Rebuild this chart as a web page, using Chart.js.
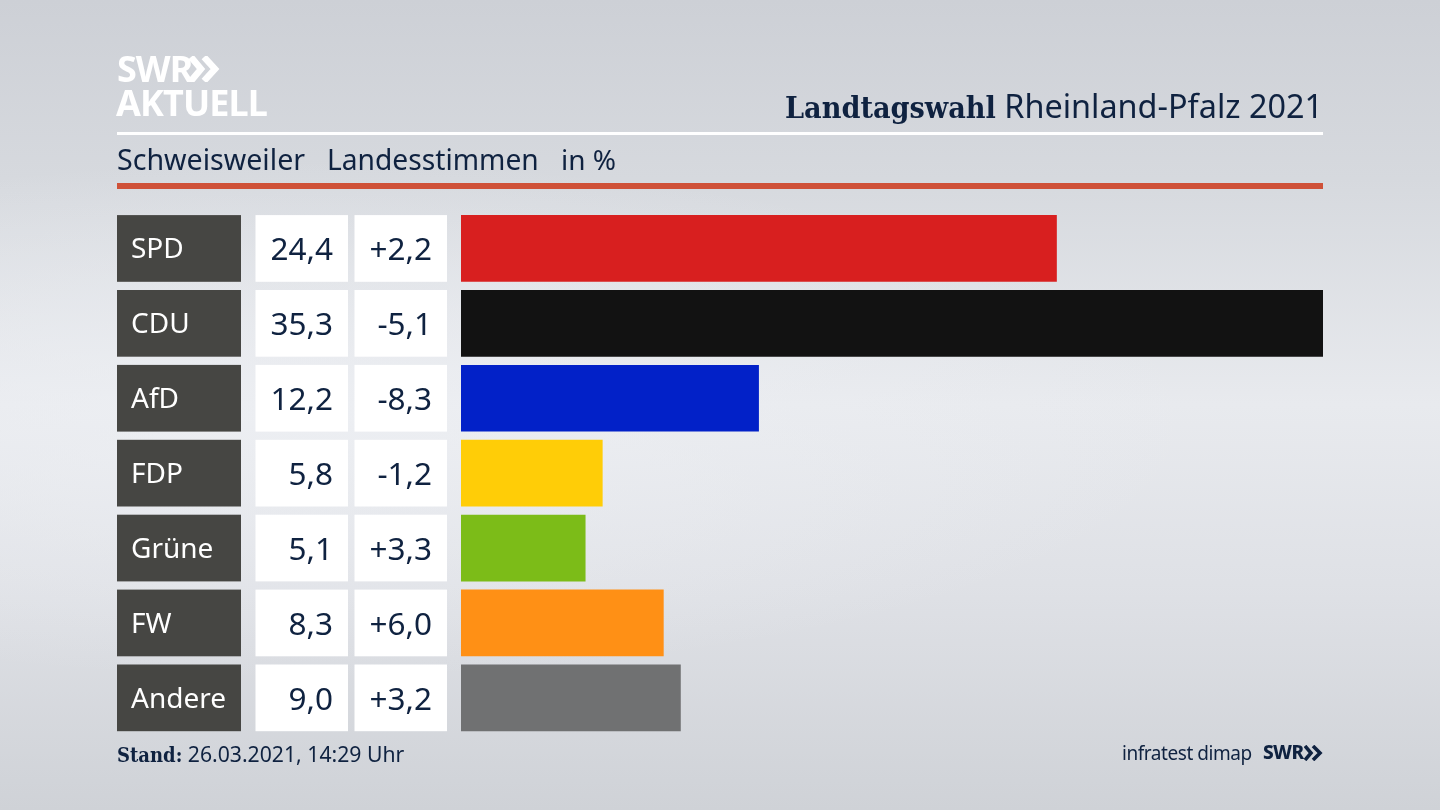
<!DOCTYPE html>
<html lang="de">
<head>
<meta charset="utf-8">
<title>Landtagswahl Rheinland-Pfalz 2021</title>
<script src="https://cdn.jsdelivr.net/npm/chart.js@4"></script>
<style>
html, body { margin: 0; padding: 0; width: 1440px; height: 810px; overflow: hidden; }
body {
    position: relative;
    font-family: "Noto Sans", sans-serif;
    color: #0f2240;
    background:
        radial-gradient(ellipse 900px 260px at 300px 420px, rgba(238,240,244,0.75), rgba(238,240,244,0)),
        linear-gradient(180deg, #cdd0d6 0%, #d6d9de 22%, #e8eaee 50%, #dfe1e6 72%, #cfd2d7 100%);
}
canvas { position: absolute; left: 0; top: 0; }
.txt { position: absolute; white-space: nowrap; line-height: 1; }
.rule { position: absolute; left: 117px; width: 1206px; }
.slab { font-family: "DejaVu Serif Condensed", "DejaVu Serif", serif; font-weight: 700; }
</style>
</head>
<body>
<canvas id="chart" width="1440" height="810"></canvas>

<div class="txt" style="left:117px;top:51px;font-size:36px;font-weight:700;color:#fff;letter-spacing:-1px">SWR</div>
<svg style="position:absolute;left:189px;top:56px" width="31" height="26" viewBox="0 0 31 26">
    <path d="M2 1l10 12L2 25M15 1l11 12-11 12" fill="none" stroke="#fff" stroke-width="6.5"/>
</svg>
<div class="txt" style="left:116px;top:85px;font-size:36px;font-weight:700;color:#fff;letter-spacing:-0.9px">AKTUELL</div>

<div class="txt" style="right:117px;top:89px;font-size:32.4px"><span class="slab" style="font-size:30.2px">Landtagswahl</span> Rheinland-Pfalz 2021</div>
<div class="rule" style="top:132px;height:3px;background:#fff"></div>
<div class="txt" style="left:117px;top:145px;font-size:28.6px">Schweisweiler</div>
<div class="txt" style="left:327px;top:145px;font-size:28.2px">Landesstimmen</div>
<div class="txt" style="left:561px;top:145px;font-size:28px">in %</div>
<div class="rule" style="top:183px;height:6px;background:#cf5138"></div>

<div class="txt" style="left:117px;top:743px;font-size:21.2px"><span class="slab" style="font-size:20px">Stand:</span> 26.03.2021, 14:29 Uhr</div>
<div class="txt" style="left:1122px;top:744px;font-size:19px;letter-spacing:-0.45px">infratest dimap</div>
<div class="txt" style="left:1263px;top:743px;font-size:19px;font-weight:800;letter-spacing:-0.6px">SWR</div>
<svg style="position:absolute;left:1304px;top:745px" width="19" height="16" viewBox="0 0 19 16">
    <path d="M1 1l6 7-6 7M9 1l7 7-7 7" fill="none" stroke="#0f2240" stroke-width="3.6"/>
</svg>

<script>
// Wahlergebnis Schweisweiler
const parties = ['SPD', 'CDU', 'AfD', 'FDP', 'Grüne', 'FW', 'Andere'];
const shares = [24.4, 35.3, 12.2, 5.8, 5.1, 8.3, 9.0];
const changes = [2.2, -5.1, -8.3, -1.2, 3.3, 6.0, 3.2];
const barColors = ['#d81f1f', '#121212', '#0221c8', '#ffcd07', '#7cbc18', '#ff9015', '#707172'];

function formatShare(v) {
    return v.toFixed(1).replace('.', ',');
}

function formatChange(v) {
    return (v > 0 ? '+' : '') + v.toFixed(1).replace('.', ',');
}

// Draws the party box and the two number cells left of every bar
const tableCells = {
    id: 'tableCells',
    afterDraw: function(chart) {
        const ctx = chart.ctx;
        const y = chart.scales.y;
        const h = 66.7;
        ctx.save();
        ctx.textBaseline = 'middle';
        parties.forEach(function(name, i) {
            const mid = y.getPixelForValue(i);
            const top = mid - h / 2;
            ctx.fillStyle = '#464643';
            ctx.fillRect(117, top, 124, h);
            ctx.fillStyle = '#ffffff';
            ctx.fillRect(255.5, top, 92.5, h);
            ctx.fillRect(354.5, top, 92.5, h);

            ctx.textAlign = 'left';
            ctx.font = '28px "Noto Sans", sans-serif';
            ctx.fillText(name, 131, mid + 2);

            ctx.textAlign = 'right';
            ctx.font = '31.5px "Noto Sans", sans-serif';
            ctx.fillStyle = '#0f2240';
            ctx.fillText(formatShare(shares[i]), 333, mid + 3);
            ctx.fillText(formatChange(changes[i]), 432, mid + 3);
        });
        ctx.restore();
    }
};

new Chart(document.getElementById('chart'), {
    type: 'bar',
    data: {
        labels: parties,
        datasets: [{
            data: shares,
            backgroundColor: barColors,
            borderWidth: 0,
            categoryPercentage: 1,
            barPercentage: 0.8905
        }]
    },
    options: {
        indexAxis: 'y',
        responsive: false,
        animation: false,
        layout: { padding: { left: 461, right: 117, top: 211, bottom: 74.7 } },
        plugins: { legend: { display: false }, tooltip: { enabled: false } },
        scales: {
            x: { display: false, min: 0, max: 35.3 },
            y: { display: false }
        }
    },
    plugins: [tableCells]
});
</script>
</body>
</html>
